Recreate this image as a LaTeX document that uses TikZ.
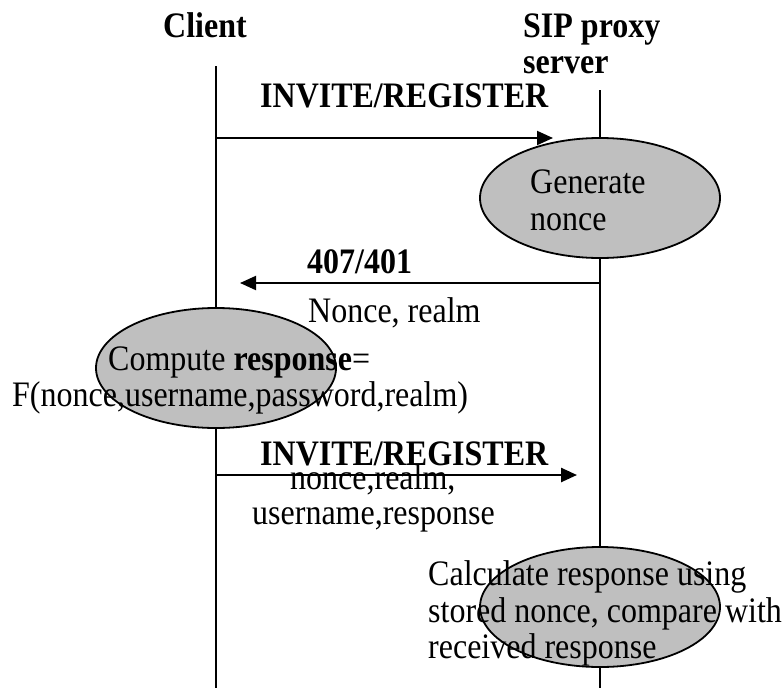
\documentclass[tikz,border=0pt]{standalone}
\usepackage{fontspec}
\setmainfont{Liberation Serif}
\usetikzlibrary{arrows.meta,shapes.geometric}
% slightly tall lettering
\newcommand\tallt[1]{\scalebox{1}[1.12]{#1}}
\begin{document}
\begin{tikzpicture}[x=1pt,y=-1pt,
  lifeline/.style={line width=1.5pt},
  msg/.style={line width=2pt,-{Triangle[length=16pt,width=14pt]}},
  proc/.style={ellipse,draw,line width=1.8pt,fill=gray!50,
    minimum width=240pt,minimum height=120pt,inner sep=0pt},
  txt/.style={anchor=base west,inner sep=0pt,font=\fontsize{32pt}{37pt}\selectfont},
  hdr/.style={txt,font=\fontsize{32pt}{37pt}\selectfont\bfseries}]
\useasboundingbox (0,0) rectangle (784,688);

% lifelines
\coordinate (cTop) at (216,66);
\coordinate (cBot) at (216,688);
\coordinate (sTop) at (600,90);
\coordinate (sBot) at (600,688);
\draw[lifeline] (cTop) -- (cBot);
\draw[lifeline] (sTop) -- (sBot);

% participants
\node[hdr] (client) at (163,37) {\tallt{Client}};
\node[hdr] (proxy1) at (523,37) {\tallt{SIP proxy}};
\node[hdr] (proxy2) at (523,73) {\tallt{server}};

% processing steps
\node[proc] (gen) at (600,198) {};
\node[proc] (comp) at (216,368) {};
\node[proc] (calc) at (600,607) {};

% messages
\coordinate (m1a) at (216,138);
\coordinate (m1b) at (553,138);
\draw[msg] (m1a) -- (m1b);
\coordinate (m2a) at (600,283);
\coordinate (m2b) at (240,283);
\draw[msg] (m2a) -- (m2b);
\coordinate (m3a) at (216,475);
\coordinate (m3b) at (577,475);
\draw[msg,line width=2.5pt] (m3a) -- (m3b);

% labels
\node[hdr] (l1) at (260,107) {\tallt{INVITE/REGISTER}};
\node[txt] (g1) at (530,193) {\tallt{Generate}};
\node[txt] (g2) at (530,230) {\tallt{nonce}};
\node[hdr] (l2) at (307,273) {\tallt{407/401}};
\node[txt] (l2b) at (308,322) {\tallt{Nonce, realm}};
\node[txt] (c1) at (108,370) {\tallt{Compute \textbf{response}=}};
\node[txt] (c2) at (12,406) {\tallt{F(nonce,username,password,realm)}};
\node[hdr] (l3) at (260,465) {\tallt{INVITE/REGISTER}};
\node[txt] (l3b) at (290,489) {\tallt{nonce,realm,}};
\node[txt] (l3c) at (252,524) {\tallt{username,response}};
\node[txt] (k1) at (428,585) {\tallt{Calculate response using}};
\node[txt] (k2) at (428,622) {\tallt{stored nonce, compare with}};
\node[txt] (k3) at (428,658) {\tallt{received response}};
\end{tikzpicture}
\end{document}
